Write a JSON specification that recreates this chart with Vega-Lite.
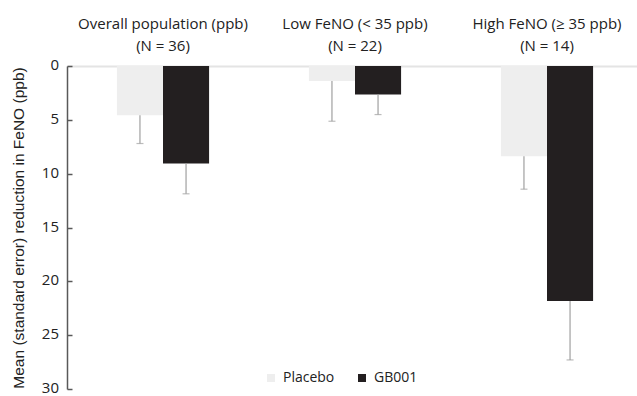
{
  "$schema": "https://vega.github.io/schema/vega-lite/v6.json",
  "width": 570,
  "height": 323,
  "autosize": {"type": "none"},
  "padding": {"left": 67, "top": 66, "right": 0, "bottom": 7},
  "config": {
    "view": {"stroke": null},
    "font": "Open Sans",
    "text": {"font": "Open Sans"}
  },
  "data": {
    "values": [
      {"group": "Overall population (ppb)|(N = 36)", "treatment": "Placebo", "mean": 4.57, "upper": 7.2},
      {"group": "Overall population (ppb)|(N = 36)", "treatment": "GB001", "mean": 9.05, "upper": 11.87},
      {"group": "Low FeNO (< 35 ppb)|(N = 22)", "treatment": "Placebo", "mean": 1.39, "upper": 5.13},
      {"group": "Low FeNO (< 35 ppb)|(N = 22)", "treatment": "GB001", "mean": 2.65, "upper": 4.51},
      {"group": "High FeNO (≥ 35 ppb)|(N = 14)", "treatment": "Placebo", "mean": 8.38, "upper": 11.44},
      {"group": "High FeNO (≥ 35 ppb)|(N = 14)", "treatment": "GB001", "mean": 21.83, "upper": 27.3}
    ]
  },
  "encoding": {
    "x": {
      "field": "group",
      "type": "nominal",
      "sort": null,
      "scale": {"paddingInner": 0.52, "paddingOuter": 0.26, "range": [0, 576]},
      "axis": {
        "orient": "top",
        "title": null,
        "ticks": false,
        "domainColor": "#e4e4e4",
        "domainWidth": 2,
        "labelAngle": 0,
        "labelFont": "Open Sans",
        "labelFontSize": 15,
        "labelColor": "#222222",
        "labelLineHeight": 22,
        "labelPadding": 35,
        "labelLimit": 300,
        "labelExpr": "split(datum.label, '|')"
      }
    },
    "xOffset": {"field": "treatment", "type": "nominal", "sort": ["Placebo", "GB001"]}
  },
  "layer": [
    {
      "mark": {"type": "bar"},
      "encoding": {
        "y": {
          "field": "mean",
          "type": "quantitative",
          "scale": {"domain": [0, 30], "reverse": true, "nice": false},
          "axis": {
            "title": "Mean (standard error) reduction in FeNO (ppb)",
            "titleFont": "Liberation Sans",
            "titleFontSize": 15.5,
            "titleFontWeight": "normal",
            "titleColor": "#222222",
            "titlePadding": 15,
            "values": [0, 5, 10, 15, 20, 25, 30],
            "grid": false,
            "domainColor": "#595959",
            "domainWidth": 1.5,
            "tickColor": "#595959",
            "tickWidth": 1.5,
            "tickSize": -5,
            "labelPadding": 13.5,
            "labelOffset": -1.5,
            "labelFont": "Open Sans",
            "labelFontSize": 15,
            "labelColor": "#222222"
          }
        },
        "color": {
          "field": "treatment",
          "type": "nominal",
          "sort": ["Placebo", "GB001"],
          "scale": {"domain": ["Placebo", "GB001"], "range": ["#eeeeee", "#231f20"]},
          "legend": {
            "title": null,
            "orient": "none",
            "direction": "horizontal",
            "legendX": 197,
            "legendY": 305,
            "symbolType": "square",
            "symbolSize": 64,
            "symbolStrokeWidth": 0,
            "labelFont": "Open Sans",
            "labelFontSize": 14,
            "labelColor": "#222222",
            "labelOffset": 5,
            "columnPadding": 20
          }
        }
      }
    },
    {
      "mark": {"type": "rule", "color": "#a0a0a0", "strokeWidth": 1.2},
      "encoding": {
        "y": {"field": "mean", "type": "quantitative"},
        "y2": {"field": "upper"}
      }
    },
    {
      "mark": {"type": "tick", "color": "#a0a0a0", "thickness": 1.2, "size": 7},
      "encoding": {
        "y": {"field": "upper", "type": "quantitative"}
      }
    }
  ]
}
